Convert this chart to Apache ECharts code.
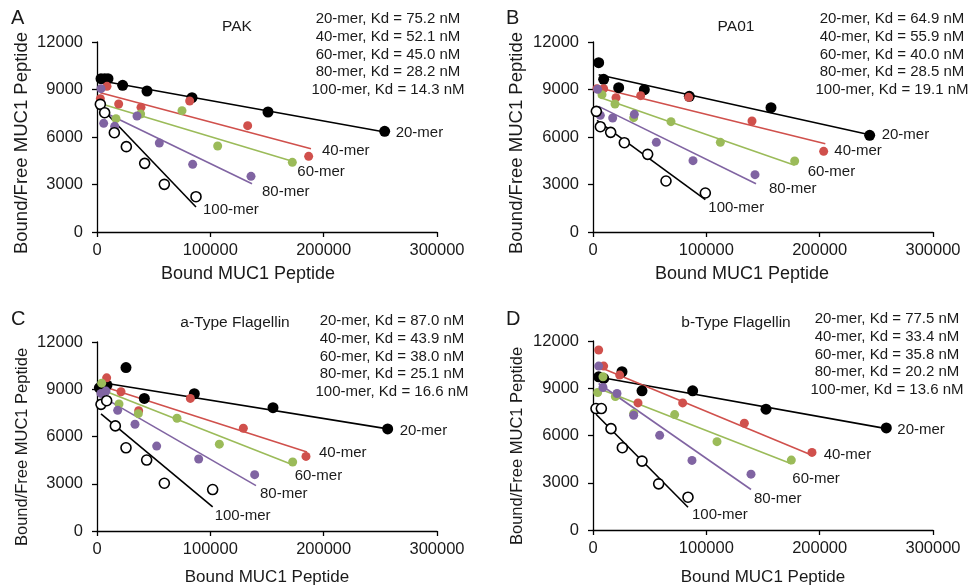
<!DOCTYPE html>
<html><head><meta charset="utf-8">
<script src="https://cdn.jsdelivr.net/npm/echarts@6/dist/echarts.min.js"></script>
<style>html,body{margin:0;padding:0;background:#fff}#c{width:976px;height:586px}</style>
</head><body><div id="c"></div>
<script>
// ---------------- DATA ----------------
const merNames = ['20-mer', '40-mer', '60-mer', '80-mer', '100-mer'];
const panelLetters = ['A', 'B', 'C', 'D'];
const panelTitles = ['PAK', 'PA01', 'a-Type Flagellin', 'b-Type Flagellin'];
const xTicks = [0, 100000, 200000, 300000];
const yTicks = [0, 3000, 6000, 9000, 12000];
const xAxisTitle = 'Bound MUC1 Peptide';
const yAxisTitle = 'Bound/Free MUC1 Peptide';

// Kd values (nM) per panel, order 20,40,60,80,100-mer
const kdPAK = [75.2, 52.1, 45.0, 28.2, 14.3];
const kdPA01 = [64.9, 55.9, 40.0, 28.5, 19.1];
const kdAType = [87.0, 43.9, 38.0, 25.1, 16.6];
const kdBType = [77.5, 33.4, 35.8, 20.2, 13.6];

// Panel A: PAK  [bound, bound/free]
const pak20 = [[3530, 9684], [6765, 9684], [9706, 9684], [22647, 9263], [44117, 8905], [83823, 8484], [150882, 7579], [253823, 6357]];
const pak40 = [[2941, 8420], [8823, 9199], [19117, 8083], [38823, 7873], [81765, 8273], [132941, 6715], [186764, 4778]];
const pak60 = [[6765, 7473], [16765, 7157], [38500, 7452], [75000, 7662], [106470, 5431], [172353, 4400]];
const pak80 = [[3530, 9052], [5882, 6862], [15588, 6673], [35294, 7326], [55000, 5620], [84412, 4273], [135882, 3515]];
const pak100 = [[2941, 8063], [6765, 7536], [15294, 6273], [25882, 5389], [42059, 4336], [59412, 3010], [87353, 2231]];
const pakFits = [
  [[4500, 9540], [253823, 6320]],
  [[2941, 8799], [188823, 5262]],
  [[3530, 8104], [172353, 4463]],
  [[3530, 7662], [136765, 3052]],
  [[2941, 7894], [87353, 1579]]
];

// Panel B: PA01
const pa20 = [[5000, 10694], [9412, 9641], [22647, 9115], [45294, 8989], [85000, 8568], [157059, 7852], [244118, 6105]];
const pa40 = [[3529, 9052], [9412, 9052], [20294, 8483], [42059, 8610], [84412, 8504], [140294, 7010], [203529, 5094]];
const pa60 = [[7941, 8673], [19412, 8083], [35882, 7220], [68824, 6968], [112353, 5662], [177941, 4484]];
const pa80 = [[4118, 9010], [6470, 7368], [17353, 7200], [36470, 7431], [55882, 5662], [88235, 4505], [142941, 3621]];
const pa100 = [[2941, 7620], [6470, 6652], [15588, 6294], [27647, 5641], [48235, 4905], [64412, 3221], [99117, 2463]];
const paFits = [
  [[5000, 9936], [244118, 6147]],
  [[5000, 9115], [205000, 5578]],
  [[5000, 8525], [177941, 4210]],
  [[5000, 7936], [143823, 3052]],
  [[3529, 7052], [99117, 2042]]
];

// Panel C: a-Type Flagellin
const fa20 = [[2059, 9094], [8824, 9262], [25588, 10378], [41765, 8420], [85882, 8715], [155294, 7831], [256470, 6484]];
const fa40 = [[8529, 9725], [21176, 8841], [36765, 7641], [82353, 8420], [129117, 6526], [184412, 4736]];
const fa60 = [[4118, 9388], [19412, 8062], [36470, 7452], [70588, 7157], [107941, 5515], [172647, 4378]];
const fa80 = [[3529, 8736], [7941, 8883], [18235, 7662], [33529, 6778], [52647, 5389], [89706, 4568], [139118, 3579]];
const fa100 = [[3529, 8041], [8529, 8273], [16176, 6673], [25588, 5284], [43823, 4505], [59412, 3031], [102059, 2631]];
const faFits = [
  [[3529, 9430], [256470, 6484]],
  [[3529, 9220], [185294, 5010]],
  [[3529, 8988], [172647, 4210]],
  [[3529, 8567], [140294, 2884]],
  [[3529, 7431], [102059, 1537]]
];

// Panel D: b-Type Flagellin
const fb20 = [[5000, 9728], [9412, 9622], [25588, 10047], [43235, 8836], [87941, 8836], [152647, 7668], [258824, 6478]];
const fb40 = [[5000, 11427], [9412, 10408], [23529, 9834], [39706, 8071], [79117, 8071], [133529, 6776], [193235, 4928]];
const fb60 = [[4118, 8730], [8824, 9728], [19706, 8475], [35882, 7392], [72059, 7328], [109412, 5607], [175000, 4439]];
const fb80 = [[5000, 10408], [8824, 9049], [21176, 8666], [35882, 7285], [58824, 6011], [87353, 4418], [139412, 3547]];
const fb100 = [[2647, 7710], [7353, 7710], [15882, 6436], [25882, 5225], [43235, 4375], [57941, 2931], [83824, 2082]];
const fbFits = [
  [[3529, 9728], [258824, 6436]],
  [[5000, 10365], [193823, 4737]],
  [[5000, 8985], [175000, 4206]],
  [[5000, 9303], [139412, 2570]],
  [[2647, 7349], [83824, 1444]]
];

// ---------------- STYLE / LAYOUT ----------------
const FONT = '"Liberation Sans", Arial, sans-serif';
const TXT = '#1a1a1a';
const colors = ['#000000', '#d0504c', '#9bbb59', '#8064a2', '#000000'];
const grids = [
  {left: 97, top: 42, width: 340, height: 190},
  {left: 593, top: 42, width: 340, height: 190},
  {left: 97, top: 342, width: 340, height: 189},
  {left: 593, top: 341, width: 340, height: 189}
];
const panels = [
  {pts: [pak20, pak40, pak60, pak80, pak100], fits: pakFits, kd: kdPAK},
  {pts: [pa20, pa40, pa60, pa80, pa100], fits: paFits, kd: kdPA01},
  {pts: [fa20, fa40, fa60, fa80, fa100], fits: faFits, kd: kdAType},
  {pts: [fb20, fb40, fb60, fb80, fb100], fits: fbFits, kd: kdBType}
];
// label offsets relative to fit line end
const labelOffsets = [
  [[6, 1], [6, 2], [0, 11], [5, 8], [2, 3]],
  [[7, 0], [4, 7], [8, 7], [8, 5], [-2, 8]],
  [[7, 2], [7, 1], [-3, 11], [-1, 8], [-3, 9]],
  [[6, 1], [6, -1], [-4, 15], [-2, 9], [-1, 8]]
];
const letterPos = [[18, 19], [513, 19], [18, 320], [513, 320]];
const titlePos = [[237, 27], [736, 27], [235, 323], [736, 323]];
const kdPos = [[388, 19], [892, 19], [392, 321], [887, 319]];
// axis title placement: [centerX, centerY, fontSize]
const xTitlePos = [[248, 274, 18], [742, 274, 18], [267, 577, 17], [763, 577, 17]];
const yTitlePos = [[22, 143, 18.5], [517, 143, 18.5], [22, 447, 16.5], [517, 446, 16.5]];

const gridOpt = [], xAxes = [], yAxes = [], series = [], graphics = [];
panels.forEach((p, i) => {
  gridOpt.push(Object.assign({containLabel: false}, grids[i]));
  xAxes.push({
    gridIndex: i, type: 'value', min: xTicks[0], max: xTicks[xTicks.length - 1],
    interval: xTicks[1] - xTicks[0],
    axisLine: {lineStyle: {color: '#000', width: 1.3}},
    axisTick: {show: true, inside: false, length: 5, lineStyle: {color: '#000', width: 1.3}},
    axisLabel: {fontFamily: FONT, fontSize: 16.5, color: TXT, margin: 10, formatter: v => String(v)},
    splitLine: {show: false}
  });
  yAxes.push({
    gridIndex: i, type: 'value', min: yTicks[0], max: yTicks[yTicks.length - 1],
    interval: yTicks[1] - yTicks[0],
    axisLine: {show: true, lineStyle: {color: '#000', width: 1.3}},
    axisTick: {show: true, inside: false, length: 5, lineStyle: {color: '#000', width: 1.3}},
    axisLabel: {fontFamily: FONT, fontSize: 16.5, color: TXT, margin: 14, formatter: v => String(v)},
    splitLine: {show: false}
  });
  // fit lines
  p.fits.forEach((f, k) => {
    series.push({
      type: 'line', xAxisIndex: i, yAxisIndex: i, data: f, symbol: 'none',
      lineStyle: {color: colors[k], width: 1.6}, z: 2, silent: true,
      endLabel: {
        show: true, formatter: merNames[k], distance: 5, offset: labelOffsets[i][k],
        fontFamily: FONT, fontSize: 15, color: TXT
      }
    });
  });
  // scatter points
  p.pts.forEach((d, k) => {
    const open = k === 4;
    series.push({
      type: 'scatter', xAxisIndex: i, yAxisIndex: i, data: d, z: 3,
      symbol: 'circle', symbolSize: k === 0 ? 11 : (open ? 10 : 9),
      itemStyle: open ? {color: '#fff', borderColor: '#000', borderWidth: 1.6, opacity: 1}
                      : {color: colors[k], borderWidth: 0, opacity: 1}
    });
  });
  graphics.push({type: 'text', left: letterPos[i][0] - 7, top: letterPos[i][1] - 11,
    style: {text: panelLetters[i], font: '20px ' + FONT, fill: TXT}});
  graphics.push({type: 'text', x: titlePos[i][0], y: titlePos[i][1],
    style: {text: panelTitles[i], font: '15.5px ' + FONT, fill: TXT,
      align: 'center', verticalAlign: 'middle', textAlign: 'center', textVerticalAlign: 'middle'}});
  const kdText = p.kd.map((v, k) => merNames[k] + ', Kd = ' + v.toFixed(1) + ' nM').join('\n');
  graphics.push({type: 'text', x: kdPos[i][0], y: kdPos[i][1] - 9,
    style: {text: kdText, font: '15px ' + FONT, fill: TXT, lineHeight: 17.8,
      align: 'center', verticalAlign: 'top', textAlign: 'center', textVerticalAlign: 'top'}});
  graphics.push({type: 'text', x: xTitlePos[i][0], y: xTitlePos[i][1],
    style: {text: xAxisTitle, font: xTitlePos[i][2] + 'px ' + FONT, fill: TXT,
      align: 'center', verticalAlign: 'middle', textAlign: 'center', textVerticalAlign: 'middle'}});
  graphics.push({type: 'text', x: yTitlePos[i][0], y: yTitlePos[i][1], rotation: Math.PI / 2,
    style: {text: yAxisTitle, font: yTitlePos[i][2] + 'px ' + FONT, fill: TXT,
      align: 'center', verticalAlign: 'middle', textAlign: 'center', textVerticalAlign: 'middle'}});
});

const chart = echarts.init(document.getElementById('c'), null, {renderer: 'canvas'});
chart.setOption({
  animation: false,
  backgroundColor: '#fff',
  grid: gridOpt, xAxis: xAxes, yAxis: yAxes, series: series, graphic: graphics
});
</script>
</body></html>
